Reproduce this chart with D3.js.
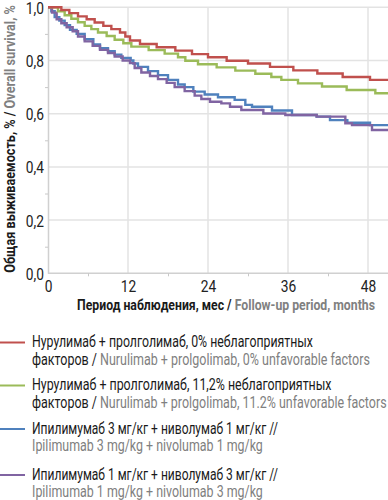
<!DOCTYPE html>
<html>
<head>
<meta charset="utf-8">
<script src="https://cdn.jsdelivr.net/npm/d3@7"></script>
<style>
  body { margin: 0; background: #fff; }
  svg { display: block; }
  text { font-family: Roboto, "Noto Sans", sans-serif; }
</style>
</head>
<body>
<div id="chart"></div>
<script>
// Kaplan-Meier steps (month, survival)
const redMonths    = [0, 2.0, 3.2, 4.5, 5.8, 7.0, 8.3, 9.5, 10.8, 11.6, 12.3, 13.8, 16.3, 19.1, 21.6, 24.0, 26.8, 30.0, 33.3, 36.8, 40.4, 44.2, 48.3];
const redSurv      = [1.0, 0.99, 0.978, 0.966, 0.955, 0.943, 0.93, 0.918, 0.905, 0.89, 0.875, 0.862, 0.85, 0.837, 0.824, 0.812, 0.799, 0.789, 0.776, 0.763, 0.751, 0.738, 0.727];

const greenMonths  = [0, 1.5, 2.5, 3.5, 4.5, 5.5, 6.5, 7.5, 8.8, 10.0, 11.3, 12.5, 15.1, 17.5, 19.5, 20.6, 22.5, 25.3, 28.1, 31.1, 33.5, 35.0, 37.5, 41.1, 44.8, 49.1];
const greenSurv    = [1.0, 0.985, 0.97, 0.957, 0.944, 0.93, 0.918, 0.905, 0.892, 0.878, 0.865, 0.852, 0.839, 0.826, 0.812, 0.799, 0.786, 0.774, 0.762, 0.75, 0.738, 0.727, 0.714, 0.702, 0.689, 0.677];

const blueMonths   = [0, 0.5, 1.0, 1.7, 2.5, 3.3, 4.3, 5.5, 6.8, 7.8, 9.0, 10.0, 11.0, 12.4, 12.8, 13.5, 15.0, 16.5, 18.0, 19.5, 20.5, 21.8, 23.5, 25.5, 28.0, 29.6, 30.6, 33.6, 36.6, 40.3, 42.3, 44.9, 48.3];
const blueSurv     = [1.0, 0.985, 0.963, 0.95, 0.933, 0.915, 0.9, 0.88, 0.86, 0.846, 0.835, 0.822, 0.81, 0.8, 0.789, 0.776, 0.76, 0.745, 0.727, 0.71, 0.7, 0.683, 0.672, 0.662, 0.652, 0.633, 0.626, 0.612, 0.595, 0.589, 0.576, 0.566, 0.557];

const purpleMonths = [0, 0.6, 1.3, 2.0, 2.8, 3.7, 4.5, 5.5, 6.7, 7.8, 9.0, 10.0, 11.2, 12.3, 13.0, 14.0, 15.3, 16.5, 17.8, 19.0, 20.5, 22.0, 23.0, 24.3, 26.0, 27.3, 29.0, 32.3, 35.6, 40.3, 44.6, 45.6, 48.6];
const purpleSurv   = [1.0, 0.98, 0.955, 0.94, 0.925, 0.91, 0.89, 0.872, 0.855, 0.84, 0.828, 0.815, 0.8, 0.79, 0.772, 0.755, 0.742, 0.73, 0.716, 0.7, 0.685, 0.668, 0.655, 0.645, 0.639, 0.626, 0.614, 0.601, 0.595, 0.589, 0.564, 0.557, 0.539];

const lastMonth = 51;

const xTicks = [0, 12, 24, 36, 48];
const xMinorTicks = [6, 18, 30, 42];
const yTicks = [0, 0.2, 0.4, 0.6, 0.8, 1.0];
const yMinorTicks = [0.1, 0.3, 0.5, 0.7, 0.9];

const seriesColors = ["#c0504d", "#9bbb59", "#4f81bd", "#8064a2"];

// legend: [russian part, english part] for each line of each entry
const legendLines = [
    [["Нурулимаб + пролголимаб, 0% неблагоприятных", ""],
     ["факторов / ", "Nurulimab + prolgolimab, 0% unfavorable factors"]],
    [["Нурулимаб + пролголимаб, 11,2% неблагоприятных", ""],
     ["факторов / ", "Nurulimab + prolgolimab, 11.2% unfavorable factors"]],
    [["Ипилимумаб 3 мг/кг + ниволумаб 1 мг/кг //", ""],
     ["", "Ipilimumab 3 mg/kg + nivolumab 1 mg/kg"]],
    [["Ипилимумаб 1 мг/кг + ниволумаб 3 мг/кг //", ""],
     ["", "Ipilimumab 1 mg/kg + nivolumab 3 mg/kg"]]
];
// widths the lines take in the picture (condensed face)
const legendWidths = [[281, 338], [300, 355], [246, 231], [246, 231]];

const xTitle = ["Период наблюдения, мес / ", "Follow-up period, months"];
const yTitle = ["Общая выживаемость, % / ", "Overall survival, %"];

const width = 388, height = 500;
const plot = {left: 48, right: 388, top: 7.3, bottom: 273.3};
const grey = "#808080";
const dark = "#1a1a1a";
const gridColor = "#e3e3e3";
const narrow = 0.86;

const svg = d3.select("#chart").append("svg")
    .attr("width", width)
    .attr("height", height);

const x = d3.scaleLinear().domain([0, lastMonth]).range([plot.left, plot.right]);
const y = d3.scaleLinear().domain([0, 1]).range([plot.bottom, plot.top]);

// squeeze a text horizontally so it spans `target` px (or by factor k)
function squeeze(text, x0, y0, opts) {
    let node = text.node();
    let w = node.getComputedTextLength();
    let k = opts.target ? opts.target / w : opts.k;
    let rot = opts.rotate ? ` rotate(${opts.rotate})` : "";
    text.attr("x", 0).attr("y", 0)
        .attr("transform", `translate(${x0},${y0})${rot} scale(${k},1)`);
}

// grid
let grid = svg.append("g");
grid.selectAll(".hg").data(yTicks.filter(d => d > 0)).join("line")
    .attr("x1", plot.left).attr("x2", plot.right)
    .attr("y1", d => y(d)).attr("y2", d => y(d))
    .attr("stroke", gridColor).attr("stroke-width", 1.5);
grid.selectAll(".vg").data(xTicks.filter(d => d > 0)).join("line")
    .attr("x1", d => x(d)).attr("x2", d => x(d))
    .attr("y1", plot.top).attr("y2", plot.bottom)
    .attr("stroke", gridColor).attr("stroke-width", 1.5);

// axes
let xAxis = svg.append("g")
    .attr("transform", `translate(0,${plot.bottom})`)
    .call(d3.axisBottom(x).tickValues(xTicks).tickSize(0).tickPadding(7).tickFormat(d3.format("d")));
let yAxis = svg.append("g")
    .attr("transform", `translate(${plot.left},0)`)
    .call(d3.axisLeft(y).tickValues(yTicks).tickSize(0).tickPadding(4)
        .tickFormat(d => d3.format(".1f")(d).replace(".", ",")));

[xAxis, yAxis].forEach(a => {
    a.select(".domain").attr("stroke", "#d0d0d0").attr("stroke-width", 1.5);
    a.selectAll("text").attr("font-size", 16).attr("fill", "#222")
        .attr("font-family", "Roboto, sans-serif");
});
xAxis.select(".domain").attr("d", `M${plot.left},0H${plot.right}`);
xAxis.selectAll("text").each(function () {
    let t = d3.select(this);
    let ty = +t.attr("y");
    squeeze(t, 0, ty, {k: narrow});
});
yAxis.selectAll("text").each(function () {
    let t = d3.select(this);
    let tx = +t.attr("x");
    squeeze(t, tx, 0, {k: narrow});
    t.attr("dy", "0.38em");
});

// minor ticks
svg.append("g").attr("transform", `translate(0,${plot.bottom})`)
    .call(d3.axisBottom(x).tickValues(xMinorTicks).tickSize(3).tickFormat(""))
    .call(g => g.select(".domain").remove())
    .selectAll("line").attr("stroke", "#c8c8c8");
svg.append("g").attr("transform", `translate(${plot.left},0)`)
    .call(d3.axisLeft(y).tickValues(yMinorTicks).tickSize(3).tickFormat(""))
    .call(g => g.select(".domain").remove())
    .selectAll("line").attr("stroke", "#c8c8c8");

// curves
const allSeries = [
    d3.zip(redMonths, redSurv),
    d3.zip(greenMonths, greenSurv),
    d3.zip(blueMonths, blueSurv),
    d3.zip(purpleMonths, purpleSurv)
];
const line = d3.line()
    .x(d => x(d[0]))
    .y(d => y(d[1]))
    .curve(d3.curveStepAfter);

[2, 3, 1, 0].forEach(i => {
    let pts = allSeries[i].concat([[lastMonth, allSeries[i][allSeries[i].length - 1][1]]]);
    svg.append("path")
        .attr("d", line(pts))
        .attr("fill", "none")
        .attr("stroke", seriesColors[i])
        .attr("stroke-width", 2.4);
});

// axis titles
function twoTone(sel, parts, size) {
    sel.append("tspan").text(parts[0]).attr("fill", dark);
    sel.append("tspan").text(parts[1]).attr("fill", grey);
    sel.attr("font-size", size).attr("font-weight", "bold");
}

let xt = svg.append("text").attr("text-anchor", "middle");
twoTone(xt, xTitle, 15);
squeeze(xt, 226, 310, {target: 298});

let yt = svg.append("text").attr("text-anchor", "middle");
twoTone(yt, yTitle, 15);
squeeze(yt, 14.5, 139, {target: 268, rotate: -90});

// legend
const legendY = [347, 390, 433.5, 479.5];
const lineGap = 17.7;
let legend = svg.append("g");
legendLines.forEach((entry, i) => {
    let g = legend.append("g").attr("transform", `translate(0,${legendY[i]})`);
    g.append("line")
        .attr("x1", 0).attr("x2", 25)
        .attr("y1", -4.5).attr("y2", -4.5)
        .attr("stroke", seriesColors[i]).attr("stroke-width", 2);
    entry.forEach((parts, j) => {
        let t = g.append("text").attr("font-size", 16);
        t.append("tspan").text(parts[0]).attr("fill", dark);
        t.append("tspan").text(parts[1]).attr("fill", grey);
        squeeze(t, 32, j * lineGap, {target: legendWidths[i][j]});
    });
});
</script>
</body>
</html>
